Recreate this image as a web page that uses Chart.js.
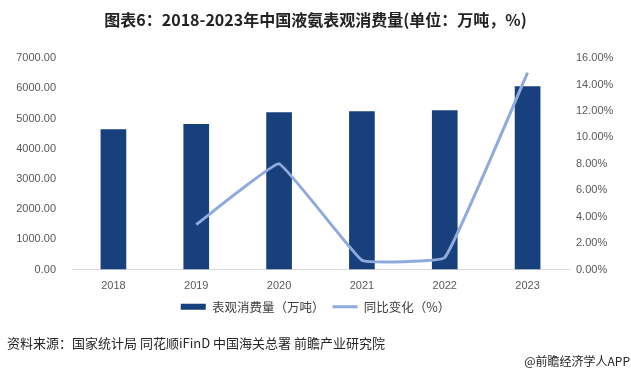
<!DOCTYPE html>
<html>
<head>
<meta charset="utf-8">
<script src="https://cdn.jsdelivr.net/npm/chart.js@4"></script>
<style>
  html, body { margin: 0; padding: 0; background: #fff; }
  #wrap { width: 631px; height: 377px; position: relative; }
</style>
</head>
<body>
<div id="wrap"><canvas id="myChart"></canvas></div>
<script>
const years = ['2018', '2019', '2020', '2021', '2022', '2023'];
const consumption = [4645, 4820, 5210, 5240, 5275, 6070];
const growth = [null, 3.4, 8.0, 0.7, 0.9, 14.9];
const leftTicks = [0, 1000, 2000, 3000, 4000, 5000, 6000, 7000];
const rightTicks = [0, 2, 4, 6, 8, 10, 12, 14, 16];

const cjk = '"Noto Sans CJK SC", "Microsoft YaHei", sans-serif';
const num = '"Liberation Sans", Arial, sans-serif';

// source line and app tag at the bottom
const footer = {
    id: 'footer',
    afterDraw(chart) {
        const ctx = chart.ctx;
        ctx.save();
        ctx.fillStyle = '#262626';
        ctx.textBaseline = 'middle';
        ctx.font = '13px ' + cjk;
        ctx.textAlign = 'left';
        ctx.fillText('资料来源：国家统计局 同花顺iFinD 中国海关总署 前瞻产业研究院', 7, 343, 388);
        ctx.font = '12px ' + cjk;
        ctx.textAlign = 'right';
        ctx.fillText('@前瞻经济学人APP', 630, 361, 118);
        ctx.restore();
    }
};

document.addEventListener('DOMContentLoaded', function() {
    const ctx = document.getElementById('myChart').getContext('2d');

    new Chart(ctx, {
        data: {
            labels: years,
            datasets: [
                {
                    type: 'line',
                    label: '同比变化（%）',
                    data: growth,
                    yAxisID: 'y1',
                    borderColor: '#8FAADC',
                    backgroundColor: '#8FAADC',
                    borderWidth: 3,
                    pointRadius: 0,
                    pointStyle: 'line',
                    tension: 0.08,
                    spanGaps: true,
                    order: 0
                },
                {
                    type: 'bar',
                    label: '表观消费量（万吨）',
                    data: consumption,
                    yAxisID: 'y',
                    backgroundColor: '#17407C',
                    borderWidth: 0,
                    pointStyle: 'rect',
                    categoryPercentage: 1,
                    barPercentage: 0.31,
                    order: 1
                }
            ]
        },
        options: {
            responsive: true,
            maintainAspectRatio: false,
            animation: false,
            layout: { padding: { left: 0, right: 0, top: 0, bottom: 54 } },
            plugins: {
                title: {
                    display: true,
                    text: '图表6：2018-2023年中国液氨表观消费量(单位：万吨，%)',
                    color: '#222222',
                    font: { family: cjk, size: 16, weight: 'bold' },
                    padding: { top: 10, bottom: 29 }
                },
                legend: {
                    position: 'bottom',
                    reverse: true,
                    labels: {
                        usePointStyle: true,
                        pointStyleWidth: 25,
                        boxHeight: 6,
                        padding: 8,
                        color: '#404040',
                        font: { family: cjk, size: 12.5 }
                    }
                },
                tooltip: { enabled: false }
            },
            scales: {
                x: {
                    afterFit: (scale) => { scale.height = 23; },
                    grid: { display: false, drawTicks: false },
                    border: { display: true, color: '#D9D9D9', width: 1 },
                    ticks: { color: '#595959', font: { family: num, size: 11 }, padding: 10 }
                },
                y: {
                    position: 'left',
                    min: 0,
                    max: 7000,
                    afterBuildTicks: (scale) => { scale.ticks = leftTicks.map(v => ({ value: v })); },
                    afterFit: (scale) => { scale.width = 72; },
                    grid: { display: false, drawTicks: false },
                    border: { display: false },
                    ticks: {
                        color: '#595959',
                        font: { family: num, size: 11 },
                        padding: 16,
                        callback: (v) => Number(v).toFixed(2)
                    }
                },
                y1: {
                    position: 'right',
                    min: 0,
                    max: 16,
                    afterBuildTicks: (scale) => { scale.ticks = rightTicks.map(v => ({ value: v })); },
                    afterFit: (scale) => { scale.width = 62; },
                    grid: { display: false, drawTicks: false },
                    border: { display: false },
                    ticks: {
                        color: '#595959',
                        font: { family: num, size: 11 },
                        padding: 7,
                        callback: (v) => Number(v).toFixed(2) + '%'
                    }
                }
            }
        },
        plugins: [footer]
    });
});
</script>
</body>
</html>
